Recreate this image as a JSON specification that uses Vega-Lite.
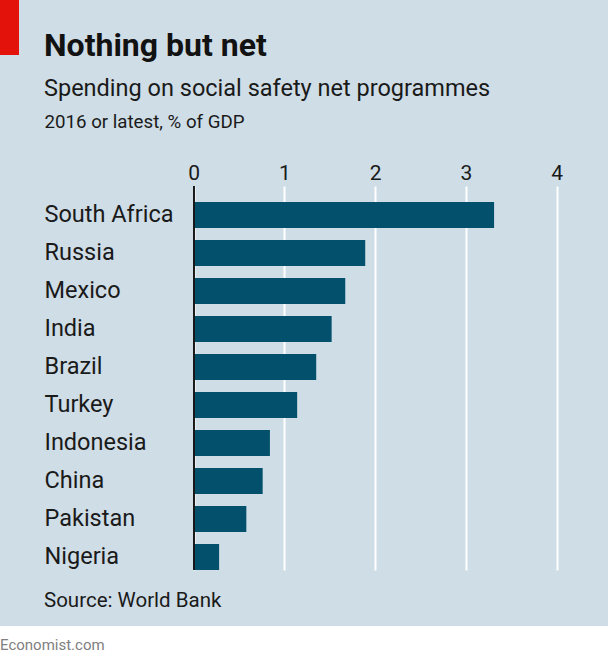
{
  "$schema": "https://vega.github.io/schema/vega-lite/v6.json",
  "background": "#cfdde6",
  "padding": 0,
  "spacing": 19,
  "config": {"view": {"stroke": null}, "font": "Roboto"},
  "vconcat": [
    {
      "spacing": -26,
      "vconcat": [
        {
          "width": 19,
          "height": 55,
          "view": {"fill": "#e3120b", "stroke": null},
          "data": {"values": []},
          "mark": "point"
        },
        {
          "width": 608,
          "height": 384,
          "data": {
            "values": [
              {"country": "South Africa", "value": 3.31},
              {"country": "Russia", "value": 1.89},
              {"country": "Mexico", "value": 1.67},
              {"country": "India", "value": 1.52},
              {"country": "Brazil", "value": 1.35},
              {"country": "Turkey", "value": 1.14},
              {"country": "Indonesia", "value": 0.84},
              {"country": "China", "value": 0.76},
              {"country": "Pakistan", "value": 0.58},
              {"country": "Nigeria", "value": 0.28}
            ]
          },
          "title": {
            "text": "Nothing but net",
            "subtitle": "Spending on social safety net programmes",
            "anchor": "start",
            "frame": "group",
            "dx": 44,
            "font": "Roboto",
            "fontSize": 32,
            "fontWeight": "bold",
            "color": "#121212",
            "subtitleFont": "Roboto",
            "subtitleFontSize": 23.5,
            "subtitleColor": "#1a1a1a",
            "subtitlePadding": 14,
            "offset": 11
          },
          "layer": [
            {
              "mark": {"type": "bar", "color": "#03506d"},
              "encoding": {
                "y": {
                  "field": "country",
                  "type": "nominal",
                  "sort": null,
                  "scale": {"paddingInner": 0.316, "paddingOuter": 0.21, "align": 1},
                  "axis": {
                    "orient": "left",
                    "title": null,
                    "domain": false,
                    "ticks": false,
                    "tickSize": 0,
                    "grid": false,
                    "labelAlign": "left",
                    "labelBaseline": "middle",
                    "labelPadding": -44,
                    "labelFont": "Roboto",
                    "labelFontSize": 23.5,
                    "labelColor": "#1a1a1a",
                    "labelLimit": 300
                  }
                },
                "x": {
                  "field": "value",
                  "type": "quantitative",
                  "scale": {"domain": [-2.1344, 4.5653], "nice": false, "zero": false},
                  "axis": {
                    "orient": "top",
                    "values": [0, 1, 2, 3, 4],
                    "format": "d",
                    "domain": false,
                    "ticks": false,
                    "tickSize": 0,
                    "grid": true,
                    "gridColor": "#ffffff",
                    "gridWidth": 2,
                    "gridOpacity": 1,
                    "labelFont": "Roboto",
                    "labelFontSize": 21,
                    "labelColor": "#1a1a1a",
                    "labelPadding": 7,
                    "labelBaseline": "alphabetic",
                    "labelFlush": false,
                    "labelOverlap": false,
                    "title": "2016 or latest, % of GDP",
                    "titleFont": "Roboto",
                    "titleFontSize": 18.7,
                    "titleFontWeight": "normal",
                    "titleColor": "#1a1a1a",
                    "titleAnchor": "start",
                    "titleAlign": "left",
                    "titleBaseline": "alphabetic",
                    "titleX": 44,
                    "titleY": -59
                  }
                },
                "x2": {"datum": 0}
              }
            },
            {
              "mark": {"type": "rule", "color": "#1a1a1a", "strokeWidth": 1.2},
              "encoding": {"x": {"datum": 0, "type": "quantitative"}}
            }
          ]
        }
      ]
    },
    {
      "width": 608,
      "height": 36,
      "view": {"fill": "#ffffff", "stroke": null},
      "title": {
        "text": "Source: World Bank",
        "anchor": "start",
        "frame": "group",
        "dx": 44,
        "font": "Roboto",
        "fontSize": 20.5,
        "fontWeight": "normal",
        "color": "#1a1a1a",
        "offset": 15
      },
      "data": {"values": [{"label": "Economist.com"}]},
      "mark": {"type": "text", "align": "left", "baseline": "alphabetic", "font": "Roboto", "fontSize": 15, "color": "#808080"},
      "encoding": {
        "text": {"field": "label", "type": "nominal"},
        "x": {"value": 0},
        "y": {"value": 24}
      }
    }
  ]
}
